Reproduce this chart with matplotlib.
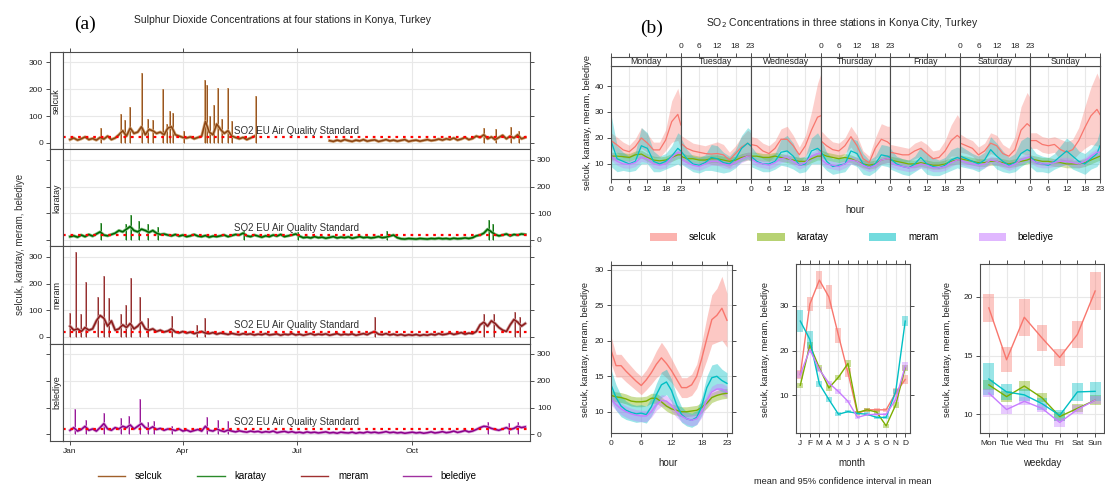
import numpy as np
import matplotlib
matplotlib.use("Agg")
import matplotlib.pyplot as plt
from matplotlib.lines import Line2D
from matplotlib.patches import Patch

plt.rcParams['font.family'] = ['Liberation Sans', 'DejaVu Sans']

W, H = 1105, 486

# ---------------- (a) time series, values every 3 days ----------------
ts_days = np.arange(0, 364, 3)
nan = np.nan

selcuk_ts = [12, 18, 10, 15, 22, 12, 16, 10, 20, 14,
             25, 12, 18, 30, 45, 25, 55, 35, 40, 60,
             30, 50, 45, 35, 40, 30, 55, 60, 30, 25,
             20, 18, 22, 15, 20, 25, 80, 40, 30, 70,
             50, 35, 45, 25, 20, 15, 20, 12, 18, 25,
             nan, nan, nan, nan, nan, nan, nan, nan, nan, nan,
             nan, nan, nan, nan, nan, nan, nan, nan, nan, 8,
             5, 10, 6, 12, 8, 5, 10, 7, 12, 6,
             9, 11, 5, 8, 12, 7, 10, 6, 9, 12,
             5, 8, 10, 6, 9, 12, 8, 10, 14, 10,
             15, 12, 18, 10, 14, 20, 12, 16, 25, 20,
             30, 15, 22, 12, 20, 28, 15, 25, 18, 30,
             15, 20]
karatay_ts = [12, 15, 10, 18, 12, 20, 14, 22, 30, 18,
              15, 20, 25, 35, 30, 40, 50, 35, 30, 40,
              35, 28, 35, 25, 20, 22, 18, 15, 20, 14,
              18, 12, 15, 20, 14, 12, 16, 10, 14, 12,
              15, 18, 12, 16, 20, 18, 25, 15, 12, 18,
              14, 10, 15, 12, 18, 14, 20, 12, 15, 18,
              22, 14, 8, 10, 7, 12, 8, 10, 6, 9,
              12, 7, 10, 8, 11, 6, 9, 12, 8, 10,
              7, 9, 12, 8, 10, 14, 18, 8, 4, 3,
              5, 4, 3, 5, 4, 3, 5, 4, 6, 4,
              5, 3, 6, 4, 5, 7, 5, 8, 15, 18,
              25, 40, 30, 20, 15, 18, 22, 15, 20, 18,
              22, 20]
meram_ts = [40, 25, 30, 20, 35, 25, 30, 60, 80, 70,
            40, 60, 25, 30, 45, 35, 50, 30, 40, 55,
            30, 25, 30, 20, 25, 18, 22, 30, 18, 15,
            20, 14, 18, 12, 16, 20, 14, 12, 16, 10,
            14, 12, 9, 13, 10, 8, 12, 9, 11, 7,
            10, 8, 12, 7, 9, 11, 6, 10, 8, 12,
            7, 10, 6, 9, 12, 7, 10, 8, 11, 6,
            9, 12, 7, 10, 8, 11, 6, 9, 12, 8,
            15, 20, 10, 8, 12, 7, 10, 6, 9, 5,
            8, 6, 9, 5, 8, 6, 10, 7, 12, 8,
            10, 14, 9, 12, 16, 10, 14, 12, 20, 45,
            55, 40, 60, 50, 35, 25, 20, 45, 65, 55,
            40, 50]
belediye_ts = [15, 25, 12, 18, 30, 15, 20, 12, 25, 40,
               20, 15, 25, 20, 30, 25, 35, 20, 30, 40,
               25, 20, 28, 18, 22, 15, 20, 18, 14, 20,
               12, 16, 10, 14, 18, 12, 30, 15, 12, 20,
               14, 10, 16, 12, 9, 13, 10, 8, 12, 9,
               11, 7, 10, 8, 12, 6, 9, 11, 7, 10,
               6, 8, 5, 9, 6, 8, 5, 7, 9, 5,
               7, 4, 8, 6, 5, 8, 4, 7, 5, 9,
               6, 8, 5, 7, 10, 6, 8, 5, 7, 4,
               6, 8, 5, 7, 4, 6, 9, 5, 7, 10,
               6, 8, 12, 7, 10, 14, 9, 12, 18, 25,
               30, 28, 22, 18, 15, 20, 25, 18, 22, 30,
               25, 28]

# short hourly peaks (day of year, value)
selcuk_peak_days = [25, 41, 44, 48, 57, 62, 66, 74, 77, 80, 82, 91, 108, 109, 112, 115, 118, 121, 126, 129, 148, 330, 340, 352, 358]
selcuk_peak_vals = [55, 109, 85, 134, 259, 90, 85, 200, 70, 118, 110, 45, 234, 215, 100, 140, 203, 90, 203, 80, 175, 55, 50, 60, 45]
karatay_peak_days = [25, 45, 49, 55, 62, 70, 139, 182, 253, 334, 337]
karatay_peak_vals = [62, 60, 92, 70, 60, 50, 32, 30, 35, 75, 60]
meram_peak_days = [0, 5, 9, 13, 22, 27, 31, 41, 45, 49, 56, 62, 81, 101, 108, 243, 330, 338, 355, 359]
meram_peak_vals = [90, 320, 85, 205, 150, 228, 145, 85, 120, 222, 150, 70, 80, 45, 70, 75, 85, 85, 95, 75]
belediye_peak_days = [4, 13, 27, 41, 47, 56, 62, 67, 81, 109, 118, 126, 333, 350, 357]
belediye_peak_vals = [95, 55, 80, 60, 70, 130, 45, 50, 32, 65, 55, 50, 45, 42, 45]

eu_standard = 20
month_tick_days = [0, 90, 181, 273]
month_tick_labels = ['Jan', 'Apr', 'Jul', 'Oct']

# ---------------- (b) day-of-week x hour ----------------
hrs = [0, 2, 4, 6, 8, 10, 12, 14, 16, 18, 20, 22, 23]
day_names = ['Monday', 'Tuesday', 'Wednesday', 'Thursday', 'Friday', 'Saturday', 'Sunday']

selcuk_week = [
    [19, 17.3, 15.4, 14.7, 16.7, 20, 18, 15.4, 15.4, 19.2, 26.3, 29.1, 25],
    [18, 16, 15, 14.5, 14, 13.8, 14, 13.5, 11.5, 14, 16.5, 18, 17],
    [17.5, 17, 15, 14, 16, 19.5, 19.5, 17, 13.5, 17, 23, 28, 28.5],
    [19, 17, 15.5, 15, 17, 20.5, 17, 12, 10.5, 16, 19.5, 18.5, 17.5],
    [14.5, 14, 13.5, 13.5, 15, 16, 14, 12, 12.5, 15, 19, 21, 20],
    [18, 17, 16, 13.5, 15, 18, 17, 14, 13, 15.5, 23, 25.5, 24.5],
    [19, 19, 17.5, 17, 17.5, 15.5, 14.5, 15.5, 19, 24, 28.5, 31, 29],
]
selcuk_week_ci = [
    [3, 3, 3, 2.5, 3, 4, 3.5, 3, 3, 4, 8, 10, 9],
    [3, 3.5, 3, 3, 3, 4, 4.5, 4, 3, 3, 4, 5, 5],
    [3, 3, 3, 3, 3, 4, 5, 4, 3, 4, 7, 13, 16],
    [4, 3.5, 3, 3, 3, 4, 4, 3, 2.5, 4, 6, 6, 7],
    [3, 3, 3, 2.5, 3, 3, 3.5, 3, 3, 4, 6, 8, 7],
    [3.5, 3, 3, 3, 3, 4, 4, 3.5, 3, 5, 9, 12, 11],
    [3, 3, 3, 3, 3, 4, 4, 4, 5, 8, 11, 14, 13],
]
karatay_week = [
    [13, 13, 12.8, 12.5, 13.5, 13.8, 12.5, 11.5, 11.2, 11.5, 12.5, 13.5, 13.5],
    [13, 12, 12, 11.5, 11.5, 12, 12, 11.5, 11, 11.5, 12.5, 13, 13],
    [13, 13, 12.5, 12.5, 13, 12.5, 12, 11.5, 11, 11, 12, 13, 13],
    [14, 13, 12.5, 12, 12.5, 12, 11, 10, 9.5, 10, 11.5, 12, 12],
    [11.5, 11, 10.5, 10, 10, 10.5, 10, 9.5, 9.5, 10, 11, 11.5, 11.5],
    [12, 11.5, 11, 10.5, 10.5, 11, 11, 10.5, 10, 10.5, 11, 11.5, 12],
    [12, 11.5, 11, 11, 10.5, 10.5, 10, 10, 10, 10.5, 11.5, 12.5, 13],
]
karatay_week_ci = 1.5
meram_week = [
    [19, 12, 11, 10, 11, 17, 16, 11, 10, 11, 13, 16, 15],
    [15, 12, 10, 9.5, 10.5, 12.5, 12, 10.5, 10, 12, 16, 18, 17],
    [13, 11, 10, 10, 11, 14.5, 15, 13, 9.5, 10, 15, 16, 15],
    [15, 11, 9, 9.5, 10, 15, 14, 10, 8.5, 10, 13.5, 13, 12.5],
    [12, 10, 9, 8.5, 10, 12.5, 10, 9, 8.5, 9.5, 11.5, 12.5, 12],
    [13, 12, 11, 10, 11.5, 15.5, 13, 11, 9.5, 10.5, 14, 15.5, 15],
    [13, 10.5, 10, 9.5, 11, 13, 15, 13, 11, 10, 12, 14, 17],
]
meram_week_ci = [
    [10, 5, 3.5, 3, 3.5, 7, 6, 4, 3, 3, 4, 6, 6],
    [5, 3.5, 3, 3, 3, 5, 5, 4, 3, 3.5, 5, 6, 6],
    [4, 3, 3, 3, 3, 5, 6, 5, 3, 3, 5, 6, 5],
    [5, 3.5, 3, 3, 3, 5, 5, 4, 3, 3, 4, 4, 4],
    [4, 3, 3, 3, 3, 4, 4, 3.5, 3, 3, 4, 4, 4],
    [4, 3.5, 3, 3, 3, 5, 5, 4, 3, 3.5, 5, 5, 5],
    [4, 3.5, 3, 3, 3, 4, 5, 5, 4, 4, 4, 5, 6],
]
belediye_week = [
    [13, 11, 10, 9.8, 10.5, 12.5, 12, 10, 9.5, 10, 12.5, 14.5, 14],
    [12, 10.5, 9.5, 9, 10, 11, 11, 10, 9.5, 10.5, 12, 13, 13],
    [12, 10.5, 10, 9.5, 10.5, 12, 12.5, 11, 9.5, 10.5, 13, 14, 14],
    [12, 10, 9.5, 9, 10, 11.5, 11, 9.5, 8.5, 9.5, 11.5, 12, 12],
    [10.5, 9.5, 9, 8.5, 9, 10, 9.5, 8.5, 8.5, 9, 10.5, 11.5, 11.5],
    [11.5, 10.5, 10, 9.5, 10, 11.5, 11, 10, 9, 10, 11.5, 12.5, 12.5],
    [12, 10.5, 10, 10, 10.5, 11, 11, 10.5, 10, 11, 13, 14.5, 14.5],
]
belediye_week_ci = 1.5

# hour of day
hour_h = list(range(24))
selcuk_hour = [18.7, 16.5, 16.5, 15.7, 15.0, 14.3, 13.7, 14.5, 15.5, 16.7, 17.6, 16.8,
               15.8, 14.6, 13.4, 13.4, 13.8, 15.0, 17.5, 20.3, 23.0, 23.6, 24.6, 22.9]
selcuk_hour_ci = [1.9, 1.6, 1.6, 1.5, 1.4, 1.3, 1.3, 1.4, 1.6, 1.9, 2.2, 2.0,
                  1.7, 1.5, 1.4, 1.4, 1.5, 1.7, 2.2, 3.0, 3.5, 3.8, 4.5, 3.8]
karatay_hour = [12.3, 12.1, 12.0, 11.8, 11.5, 11.4, 11.4, 11.5, 11.9, 11.9, 11.4, 10.8,
                10.4, 10.2, 10.0, 10.0, 10.1, 10.2, 10.6, 11.2, 12.0, 12.3, 12.5, 12.6]
karatay_hour_ci = 0.7
meram_hour = [13.8, 12.0, 10.8, 10.2, 9.9, 9.7, 9.8, 9.6, 10.7, 12.4, 13.8, 14.2,
              13.0, 11.0, 9.6, 9.0, 8.8, 9.2, 10.8, 13.4, 14.8, 15.0, 14.4, 14.0]
meram_hour_ci = [2.2, 1.8, 1.5, 1.3, 1.2, 1.2, 1.2, 1.2, 1.3, 1.6, 1.8, 1.8,
                 1.6, 1.3, 1.1, 1.0, 1.0, 1.0, 1.3, 1.6, 1.8, 1.8, 1.6, 1.5]
belediye_hour = [11.8, 11.0, 10.4, 10.0, 9.7, 9.5, 9.4, 9.4, 10.0, 11.0, 11.6, 11.5,
                 10.9, 10.0, 9.4, 9.0, 8.8, 9.0, 10.0, 11.6, 12.8, 13.2, 13.2, 12.8]
belediye_hour_ci = 0.8

# month
months = list(range(1, 13))
month_labels = ['J', 'F', 'M', 'A', 'M', 'J', 'J', 'A', 'S', 'O', 'N', 'D']
selcuk_month = [14.6, 30.4, 35.8, 32.0, 23.4, 15.0, 5.9, 6.7, 6.7, 6.7, 10.5, 13.5]
selcuk_month_ci = [1.0, 1.5, 2.0, 2.7, 1.7, 1.0, 0.5, 0.5, 0.5, 0.5, 1.0, 0.9]
karatay_month = [12.2, 21.2, 16.1, 11.6, 14.0, 17.1, 6.1, 6.7, 6.2, 3.1, 7.8, 16.1]
karatay_month_ci = [0.6, 0.8, 0.7, 0.6, 0.6, 0.7, 0.4, 0.4, 0.4, 0.4, 0.6, 0.7]
meram_month = [26.6, 22.5, 12.5, 9.0, 5.7, 6.3, 5.9, 5.7, 5.0, 5.0, 10.8, 26.6]
meram_month_ci = [2.4, 1.9, 0.7, 0.6, 0.4, 0.4, 0.4, 0.4, 0.4, 0.4, 0.6, 1.1]
belediye_month = [14.6, 20.2, 15.7, 12.7, 10.8, 8.6, 5.0, 5.6, 5.7, 5.7, 9.0, 16.5]
belediye_month_ci = [0.7, 0.8, 0.6, 0.5, 0.5, 0.4, 0.3, 0.3, 0.3, 0.3, 0.5, 0.9]

# weekday
wdays = list(range(1, 8))
wday_labels = ['Mon', 'Tue', 'Wed', 'Thu', 'Fri', 'Sat', 'Sun']
selcuk_wday = [19.06, 14.64, 18.26, 16.5, 14.84, 16.8, 20.5]
selcuk_wday_ci = [1.2, 1.05, 1.6, 1.1, 0.75, 1.15, 1.65]
karatay_wday = [12.5, 11.5, 12.4, 11.4, 9.8, 10.5, 11.2]
karatay_wday_ci = [0.45, 0.45, 0.45, 0.4, 0.35, 0.35, 0.4]
meram_wday = [13.0, 11.9, 11.65, 10.9, 9.9, 11.9, 11.95]
meram_wday_ci = [1.35, 0.7, 0.5, 0.5, 0.5, 0.75, 0.8]
belediye_wday = [11.8, 10.4, 11.1, 10.5, 9.3, 10.4, 11.2]
belediye_wday_ci = [0.35, 0.35, 0.35, 0.35, 0.35, 0.35, 0.35]

stations = ['selcuk', 'karatay', 'meram', 'belediye']

# ---------------- styling ----------------
dark_cols = ['#8B4513', '#006400', '#8B1A1A', '#8B008B']
light_cols = ['#D2A679', '#7FBF7F', '#CC9999', '#D9A0D9']
legend_a_cols = ['#A0602A', '#2A8A2A', '#A03030', '#A030A0']
b_cols = ['#F8766D', '#7CAE00', '#00BFC4', '#C77CFF']
frame_col = '#4d4d4d'
grid_col = '#e8e8e8'
txt_col = '#222222'


def px(x0, y0, x1, y1):
    return [x0 / W, 1 - y1 / H, (x1 - x0) / W, (y1 - y0) / H]


def style(ax):
    for s in ax.spines.values():
        s.set_color(frame_col)
        s.set_linewidth(0.8)
    ax.tick_params(colors=frame_col, labelcolor=txt_col, labelsize=6,
                   length=3, width=0.7, pad=2)


fig = plt.figure(figsize=(W / 100, H / 100), dpi=100)

# ================= panel (a) =================
fig.text(85 / W, 1 - 24 / H, '(a)', family=['Liberation Serif', 'DejaVu Serif'],
         fontsize=14, ha='center', va='center')
fig.text(283 / W, 1 - 20 / H, 'Sulphur Dioxide Concentrations at four stations in Konya, Turkey',
         fontsize=7.5, ha='center', va='center', color=txt_col)
fig.text(20 / W, 1 - 244 / H, 'selcuk, karatay, meram, belediye', rotation=90,
         fontsize=7, ha='center', va='center', color='#333333')

ts_all = [selcuk_ts, karatay_ts, meram_ts, belediye_ts]
pk_days = [selcuk_peak_days, karatay_peak_days, meram_peak_days, belediye_peak_days]
pk_vals = [selcuk_peak_vals, karatay_peak_vals, meram_peak_vals, belediye_peak_vals]
edges = [52, 149.5, 246.5, 343.5, 441]
ylim_a = (-25, 339)

for i in range(4):
    top, bot = edges[i], edges[i + 1]
    ax_s = fig.add_axes(px(50, top, 63, bot))
    ax = fig.add_axes(px(63, top, 530, bot))
    style(ax_s)
    style(ax)
    ax_s.set_ylim(*ylim_a)
    ax.set_ylim(*ylim_a)
    ax.set_xlim(-5.6, 366.8)
    ax_s.set_xticks([])
    ax_s.set_yticks([0, 100, 200, 300])
    if i % 2 == 1:
        ax_s.set_yticklabels([])
    ax_s.text(0.5, 0.5, stations[i], rotation=90, transform=ax_s.transAxes,
              ha='center', va='center', fontsize=6.5, color=txt_col)

    ax.yaxis.tick_right()
    ax.set_yticks([0, 100, 200, 300])
    if i % 2 == 0:
        ax.set_yticklabels([])
    ax.set_xticks(month_tick_days)
    if i == 0:
        ax.xaxis.tick_top()
        ax.set_xticklabels([])
    elif i == 3:
        ax.set_xticklabels(month_tick_labels)
    else:
        ax.tick_params(axis='x', length=0, labelbottom=False)
    ax.grid(True, color=grid_col, lw=0.8)
    ax.set_axisbelow(True)

    ax.vlines(pk_days[i], 0, pk_vals[i], color=light_cols[i], lw=1.4)
    ax.vlines(pk_days[i], 0, pk_vals[i], color=dark_cols[i], lw=0.6)
    ax.plot(ts_days, ts_all[i], color=light_cols[i], lw=2.2)
    ax.plot(ts_days, ts_all[i], color=dark_cols[i], lw=1.1)
    ax.axhline(eu_standard, color='red', ls=(0, (1.2, 2.2)), lw=1.6)
    ax.text(131, 27, 'SO2 EU Air Quality Standard', fontsize=7, color='#333333',
            ha='left', va='bottom')

handles_a = [Line2D([], [], color=c, lw=1) for c in legend_a_cols]
fig.legend(handles_a, stations, ncol=4, loc='center', bbox_to_anchor=(287 / W, 1 - 476 / H),
           frameon=False, fontsize=7, handlelength=2.8, columnspacing=3.6, handletextpad=1.0)

# ================= panel (b) top =================
fig.text(652 / W, 1 - 28 / H, '(b)', family=['Liberation Serif', 'DejaVu Serif'],
         fontsize=14, ha='center', va='center')
fig.text(842 / W, 1 - 23 / H, 'SO$_2$ Concentrations in three stations in Konya City, Turkey',
         fontsize=7.5, ha='center', va='center', color=txt_col)
fig.text(588 / W, 1 - 122 / H, 'selcuk, karatay, meram, belediye', rotation=90,
         fontsize=6.7, ha='center', va='center', color=txt_col)
fig.text(855 / W, 1 - 210 / H, 'hour', fontsize=7, ha='center', va='center', color=txt_col)

week_means = [selcuk_week, karatay_week, meram_week, belediye_week]
week_cis = [selcuk_week_ci, karatay_week_ci, meram_week_ci, belediye_week_ci]
x0b, x1b = 611, 1100
dw = (x1b - x0b) / 7
for d in range(7):
    xa = x0b + d * dw
    ax = fig.add_axes(px(xa, 66, xa + dw, 179))
    st = fig.add_axes(px(xa, 57, xa + dw, 66))
    style(ax)
    style(st)
    ax.set_xlim(0, 23)
    ax.set_ylim(4.2, 47.7)
    ax.set_xticks([0, 6, 12, 18, 23])
    ax.set_yticks([10, 20, 30, 40])
    ax.grid(True, color=grid_col, lw=0.8)
    ax.set_axisbelow(True)
    if d > 0:
        ax.tick_params(axis='y', length=0, labelleft=False)
    if d % 2 == 1:
        ax.set_xticklabels([])
    st.set_xlim(0, 23)
    st.set_xticks([0, 6, 12, 18, 23])
    st.xaxis.tick_top()
    if d % 2 == 0:
        st.set_xticklabels([])
    st.set_yticks([])
    st.text(0.5, 0.45, day_names[d], transform=st.transAxes, ha='center', va='center',
            fontsize=6.3, color=txt_col)
    for k in range(4):
        m = np.array(week_means[k][d])
        ci = week_cis[k] if np.isscalar(week_cis[k]) else np.array(week_cis[k][d])
        ax.fill_between(hrs, m - ci, m + ci, color=b_cols[k], alpha=0.35, lw=0)
    for k in range(4):
        ax.plot(hrs, week_means[k][d], color=b_cols[k], lw=0.9)

handles_b = [Patch(facecolor=c, alpha=0.55, edgecolor='none') for c in b_cols]
fig.legend(handles_b, stations, ncol=4, loc='center', bbox_to_anchor=(852 / W, 1 - 237 / H),
           frameon=False, fontsize=7, handlelength=2.8, handleheight=0.9,
           columnspacing=4.2, handletextpad=1.2)

# ================= panel (b) bottom =================
fig.text(843 / W, 1 - 481 / H, 'mean and 95% confidence interval in mean',
         fontsize=6.7, ha='center', va='center', color=txt_col)

# hour
axh = fig.add_axes(px(611, 265, 732, 433))
style(axh)
axh.set_xlim(0, 24)
axh.set_ylim(7.0, 30.7)
axh.set_xticks([0, 6, 12, 18, 23])
axh.set_yticks([10, 15, 20, 25, 30])
axh.tick_params(top=True, right=True)
axh.grid(True, color=grid_col, lw=0.8)
axh.set_axisbelow(True)
hour_means = [selcuk_hour, karatay_hour, meram_hour, belediye_hour]
hour_cis = [selcuk_hour_ci, karatay_hour_ci, meram_hour_ci, belediye_hour_ci]
for k in range(4):
    m = np.array(hour_means[k])
    ci = np.array(hour_cis[k])
    axh.fill_between(hour_h, m - ci, m + ci, color=b_cols[k], alpha=0.4, lw=0)
for k in range(4):
    axh.plot(hour_h, hour_means[k], color=b_cols[k], lw=1.0)
fig.text(668 / W, 1 - 463 / H, 'hour', fontsize=7, ha='center', va='center', color=txt_col)
fig.text(586 / W, 1 - 349 / H, 'selcuk, karatay, meram, belediye', rotation=90,
         fontsize=6.7, ha='center', va='center', color=txt_col)

# month
axm = fig.add_axes(px(796, 264, 910, 433))
style(axm)
axm.set_xlim(0.55, 12.5)
axm.set_ylim(1.5, 39.4)
axm.set_xticks(months)
axm.set_xticklabels(month_labels)
axm.set_yticks([10, 20, 30])
axm.tick_params(top=True, right=True)
axm.grid(True, color=grid_col, lw=0.8)
axm.set_axisbelow(True)
month_means = [selcuk_month, karatay_month, meram_month, belediye_month]
month_cis = [selcuk_month_ci, karatay_month_ci, meram_month_ci, belediye_month_ci]
for k in range(4):
    m = np.array(month_means[k])
    ci = np.array(month_cis[k])
    axm.bar(months, 2 * ci, bottom=m - ci, width=0.62, color=b_cols[k], alpha=0.4, lw=0)
for k in range(4):
    axm.plot(months, month_means[k], color=b_cols[k], lw=1.0)
fig.text(852 / W, 1 - 463 / H, 'month', fontsize=7, ha='center', va='center', color=txt_col)
fig.text(766 / W, 1 - 349 / H, 'selcuk, karatay, meram, belediye', rotation=90,
         fontsize=6.7, ha='center', va='center', color=txt_col)

# weekday
axw = fig.add_axes(px(980, 264, 1104, 433))
style(axw)
axw.set_xlim(0.5, 7.5)
axw.set_ylim(8.4, 22.8)
axw.set_xticks(wdays)
axw.set_xticklabels(wday_labels)
axw.set_yticks([10, 15, 20])
axw.tick_params(top=True, right=True)
axw.grid(True, color=grid_col, lw=0.8)
axw.set_axisbelow(True)
wday_means = [selcuk_wday, karatay_wday, meram_wday, belediye_wday]
wday_cis = [selcuk_wday_ci, karatay_wday_ci, meram_wday_ci, belediye_wday_ci]
for k in range(4):
    m = np.array(wday_means[k])
    ci = np.array(wday_cis[k])
    axw.bar(wdays, 2 * ci, bottom=m - ci, width=0.62, color=b_cols[k], alpha=0.4, lw=0)
for k in range(4):
    axw.plot(wdays, wday_means[k], color=b_cols[k], lw=1.0)
fig.text(1042 / W, 1 - 463 / H, 'weekday', fontsize=7, ha='center', va='center', color=txt_col)
fig.text(948 / W, 1 - 349 / H, 'selcuk, karatay, meram, belediye', rotation=90,
         fontsize=6.7, ha='center', va='center', color=txt_col)

fig.savefig('out.png', dpi=100)
